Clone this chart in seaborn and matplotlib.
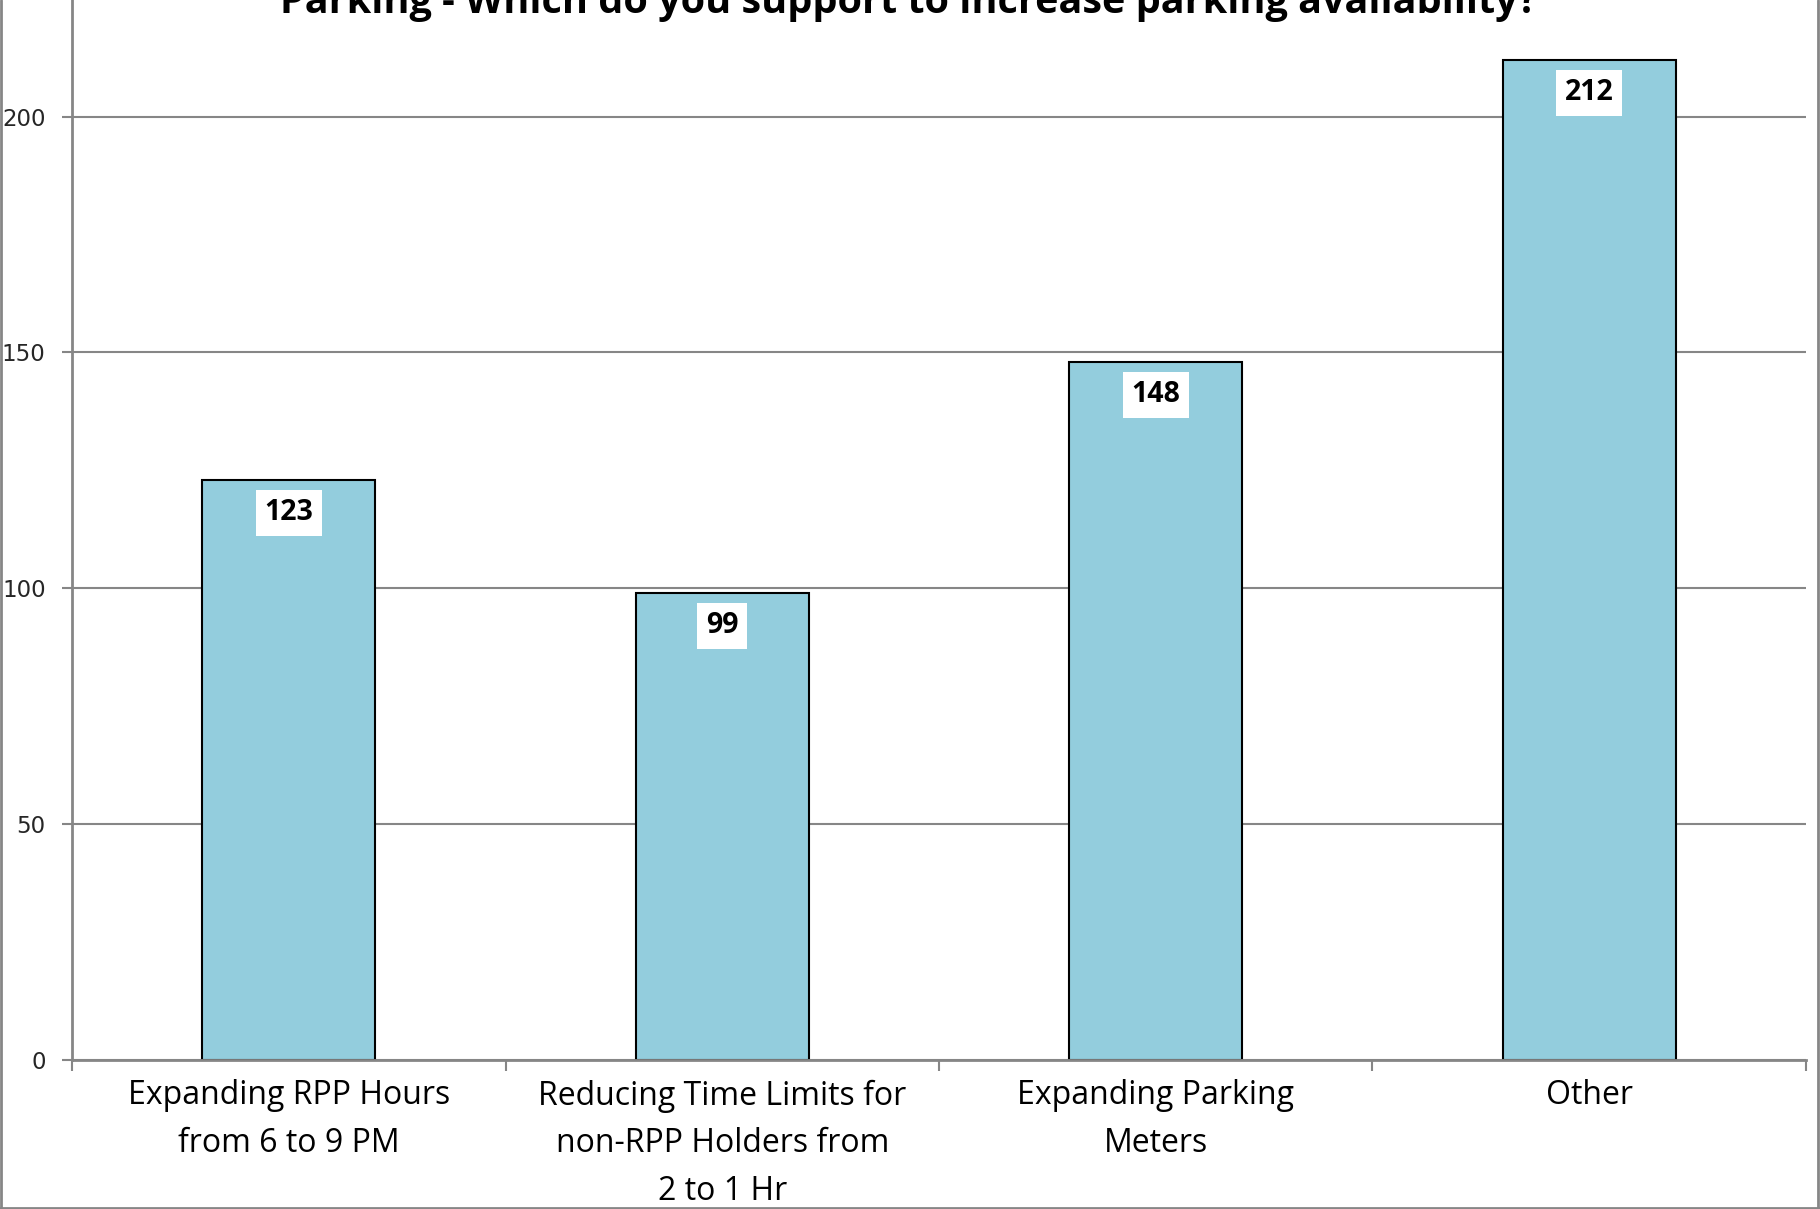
import matplotlib
matplotlib.use("Agg")
import matplotlib.pyplot as plt
from matplotlib.lines import Line2D
import seaborn as sns
import pandas as pd

# Data
categories = [
    "Expanding RPP Hours\nfrom 6 to 9 PM",
    "Reducing Time Limits for\nnon-RPP Holders from\n2 to 1 Hr",
    "Expanding Parking\nMeters",
    "Other",
]
votes = [123, 99, 148, 212]
y_ticks = [0, 50, 100, 150, 200]
title = "Parking - Which do you support to increase parking availability?"

df = pd.DataFrame({"option": categories, "votes": votes})

sns.set_theme(style="white")
plt.rcParams["font.family"] = ["Open Sans", "DejaVu Sans"]

grid_gray = "#868686"

fig = plt.figure(figsize=(18.2, 12.09), dpi=100)
ax = fig.add_axes([72 / 1820, 149 / 1209, (1806 - 72) / 1820, 1060 / 1209])

sns.barplot(data=df, x="option", y="votes", color="#93CDDD", saturation=1,
            edgecolor="black", linewidth=1.5, width=0.4, ax=ax)

ax.set_xlim(-0.5, 3.5)
ax.set_ylim(0, 224.7)
ax.set_yticks(y_ticks)
ax.set_yticklabels([str(t) for t in y_ticks], fontsize=16.5, family="DejaVu Sans")
ax.yaxis.grid(True, color=grid_gray, linewidth=1.5)
ax.set_axisbelow(True)
ax.tick_params(axis="y", length=7, width=1.5, color=grid_gray, pad=12, left=True)

# category labels at bar centres, tick marks on category boundaries
ax.tick_params(axis="x", which="major", length=0, pad=14, labelsize=23)
ax.set_xticks([-0.5, 0.5, 1.5, 2.5, 3.5], minor=True)
ax.tick_params(axis="x", which="minor", length=8, width=1.5, color=grid_gray, bottom=True)
for lbl in ax.get_xticklabels():
    lbl.set_verticalalignment("top")
    lbl.set_linespacing(1.58)
    lbl.set_color("black")

ax.set_xlabel("")
ax.set_ylabel("")
for side in ["top", "right"]:
    ax.spines[side].set_visible(False)
for side in ["left", "bottom"]:
    ax.spines[side].set_color(grid_gray)
    ax.spines[side].set_linewidth(2)

# value labels in white boxes just inside the bar tops
for p in ax.patches:
    h = p.get_height()
    ax.annotate(f"{h:.0f}", xy=(p.get_x() + p.get_width() / 2, h),
                xytext=(0, -33), textcoords="offset pixels",
                ha="center", va="center", fontsize=20.5, fontweight="bold",
                color="black",
                bbox=dict(boxstyle="square,pad=0.3", fc="white", ec="none"))

# title partially cut off at the top edge, as in the source image
fig.text(909 / 1820, 1 - 13 / 1209, title, ha="center", va="baseline",
         fontsize=28.5, fontweight="bold", color="black")

# chart-area border (left, right, bottom)
for xs, ys in [([0.0005, 0.0005], [0, 1]), ([0.999, 0.999], [0, 1]), ([0, 1], [0.001, 0.001])]:
    fig.add_artist(Line2D(xs, ys, transform=fig.transFigure, color=grid_gray, linewidth=2))

fig.savefig("out.png", dpi=100)
